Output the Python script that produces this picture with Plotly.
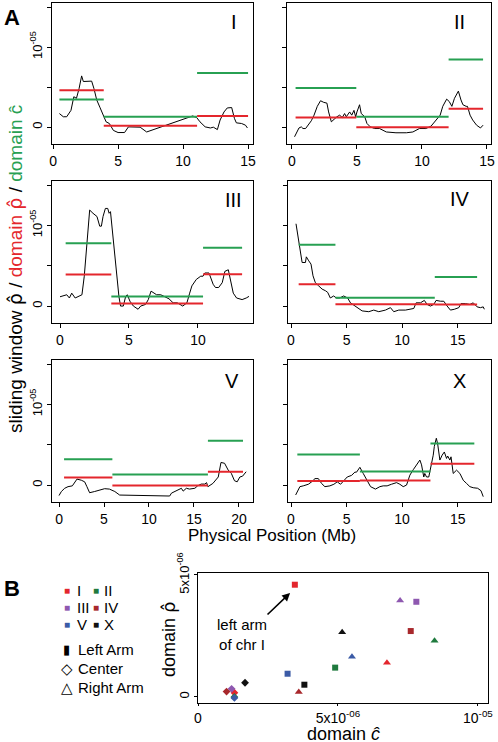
import numpy as np
import plotly.graph_objects as go

W, H = 498, 742
E = 1e-6  # values below are in units of 1e-6

chroms = ["I", "II", "III", "IV", "V", "X"]
chrom_colors = ["#e3262d", "#1f7a3e", "#8e58b0", "#a8282c", "#3b5ba6", "#111111"]
domain_names = ["Left Arm", "Center", "Right Arm"]

# ---- sliding window rho-hat (Mb, x1e-6) ----
pos_I = [0.49,0.79,1.05,1.38,1.6,1.8,2.0,2.2,2.33,2.64,2.97,3.15,3.36,3.6,3.87,4.08,4.33,4.64,5.0,5.5,5.8,6.2,6.7,7.2,10.74,11.05,11.3,11.7,12.1,12.33,12.64,12.85,13.15,13.4,13.74,13.95,14.1,14.5,14.8,14.95]
win_I = [1.7,1.3,1.3,2.1,3.8,3.6,4.8,6.4,5.7,5.7,5.75,4.8,3.4,2.5,1.5,0.67,0.46,-0.4,-0.67,-0.67,0.04,0.0,0.0,-0.6,1.4,1.2,0.67,0.04,-0.1,0.0,-0.3,0.9,1.9,2.4,2.45,1.1,0.54,0.46,0.25,-0.1]

pos_II = [0.2,0.33,0.54,0.72,0.85,1.05,1.23,1.49,1.7,1.95,2.2,2.44,2.69,2.82,3.03,3.28,3.46,3.67,3.87,4.05,4.18,4.44,4.6,4.77,4.9,5.0,5.2,5.33,5.6,5.77,6.03,6.36,6.74,7.26,8.0,8.8,9.3,9.8,10.3,10.7,11.1,11.4,11.6,11.9,12.1,12.3,12.5,12.8,13.0,13.15,13.4,13.5,13.7,13.9,14.2,14.5,14.7]
win_II = [-1.2,-0.8,-0.1,0.04,-0.17,-0.17,0.25,0.8,1.5,2.6,3.3,3.1,3.0,1.9,0.67,1.1,1.3,1.5,1.2,1.7,1.3,1.9,1.5,2.1,1.3,1.9,2.8,1.7,1.3,0.46,0.04,-0.17,-0.17,-0.6,-0.7,-0.7,-0.6,-0.17,-0.17,0.13,0.9,1.5,2.6,3.5,3.2,2.6,3.6,4.5,3.4,2.8,2.6,2.6,1.5,0.9,0.25,-0.1,0.25]

pos_III = [0,0.24,0.49,0.68,0.85,1.1,1.34,1.59,1.76,1.95,2.15,2.39,2.68,2.88,3.0,3.12,3.29,3.46,3.56,3.66,3.9,4.1,4.27,4.39,4.59,4.76,4.88,5.07,5.32,5.66,5.85,6.2,6.4,6.6,6.8,7.0,7.3,7.56,7.9,8.2,8.5,8.9,9.2,9.4,9.56,9.88,10.2,10.37,10.5,10.8,10.9,11.1,11.27,11.5,11.76,11.95,12.2,12.4,12.56,12.8,13.2,13.5,13.7]
win_III = [1.15,1.3,1.4,1.0,1.6,1.0,1.2,1.4,3.7,7.8,11.9,11.5,11.1,9.9,9.9,11.1,12.1,12.1,11.5,11.7,7.4,4.1,1.2,0,0,1.2,1.4,0.6,0,-0.4,0,0.2,0.8,1.85,1.6,1.4,1.4,1.2,0.9,0.4,0.4,0,0.4,1.6,2.5,3.3,3.7,3.7,4.1,4.1,3.7,2.7,2.3,2.3,2.9,4.3,4.5,2.9,1.6,1.0,0.8,1.0,1.2]

pos_IV = [0.45,0.69,0.9,1.0,1.3,1.38,1.6,1.8,1.98,2.19,2.49,2.8,3.1,3.3,3.54,3.84,4.08,4.38,4.74,5.1,5.35,5.8,6.4,7.0,7.45,7.9,8.5,8.95,9.25,9.7,10.3,11.05,11.26,11.65,12.0,12.25,12.55,12.85,13.06,13.45,13.75,14.05,14.35,14.7,15.1,15.3,15.7,16.1,16.4,16.75,17.05,17.3,17.4]
win_IV = [10.2,8.1,6.5,5.4,5.4,6.1,5.6,5.2,3.75,2.9,2.5,2.1,1.9,1.7,1.0,1.25,1.0,1.0,1.25,1.0,0.4,0,-0.6,-0.7,-0.5,-0.7,-0.5,-0.2,-0.7,-0.5,-0.5,-0.3,0.4,0.4,0.7,0.2,0,0.2,0.7,0.6,0.6,0,-0.5,-0.4,-0.2,0.3,0.3,0.2,0.4,-0.1,-0.2,-0.1,-0.4]

pos_V = [0,0.26,0.63,1.0,1.48,1.74,2.0,2.48,2.85,3.1,3.4,3.96,4.5,5.07,5.6,6.2,6.74,7.85,8.96,10.07,11.2,12.3,12.5,12.85,13.2,13.6,13.8,14.15,14.5,15.1,15.4,15.8,16.2,16.4,16.55,17.1,17.7,18.0,18.4,18.8,19.15,19.5,19.8,20.1,20.4,20.8]
win_V = [-1.3,-0.8,-0.4,-0.2,-0.1,0.4,0.74,0.6,0.4,-0.2,-0.95,-0.8,-0.6,-0.45,-0.5,-0.8,-1.24,-1.28,-1.3,-1.36,-1.36,-1.36,-1.0,-0.8,-0.7,-0.4,-0.75,-0.4,-0.5,-0.4,-0.1,0.12,0.12,0.3,-0.2,0.2,1.0,2.8,2.7,1.86,1.45,0.54,0.4,1.0,1.1,1.65]

pos_X = [0.42,0.57,0.8,1.1,1.56,1.86,2.16,2.46,2.75,3.05,3.5,3.86,4.16,4.46,4.76,5.06,5.45,5.75,5.9,6.2,6.5,6.8,7.16,7.6,8.0,8.3,8.65,9.04,9.5,9.8,10.1,10.4,10.7,11.0,11.3,11.6,11.75,11.95,12.04,12.2,12.4,12.6,12.8,12.9,13.08,13.2,13.4,13.6,13.8,14.0,14.1,14.3,14.4,14.6,14.9,15.2,15.5,15.8,16.1,16.4,16.8,17.1,17.3]
win_X = [-1.23,-0.8,-0.2,-0.1,0.1,0.4,0.8,0.8,0.2,-0.2,-0.1,0.1,0.4,0.1,0.6,1.0,1.2,1.6,1.6,2.2,1.44,0.6,-0.2,-0.5,-0.2,-0.1,-0.1,0.1,0.3,0.1,-0.2,0,1.23,1.9,2.5,3.1,2.5,1.0,1.44,1.0,1.0,2.3,3.7,4.8,5.8,5.1,3.1,3.7,4.1,3.3,3.6,3.1,3.5,1.44,1.85,1.44,0.6,0.2,-0.2,-0.33,-0.4,-0.7,-1.44]

# ---- domains: boundaries (Mb), domain rho-hat, domain c-hat (x1e-6) ----
bounds_I = [0.49, 3.9, 11.08, 15.0]
rho_I = [4.6, 0.17, 1.4]
c_I = [3.46, 1.3, 6.75]

bounds_II = [0.28, 4.95, 12.05, 14.7]
rho_II = [1.2, 0.0, 2.3]
c_II = [4.9, 1.3, 8.45]

bounds_III = [0.41, 3.72, 10.37, 13.2]
rho_III = [3.9, 0.33, 3.95]
c_III = [7.8, 1.2, 7.22]

bounds_IV = [0.69, 4.0, 12.94, 16.75]
rho_IV = [2.7, 0.22, 0.2]
c_IV = [7.6, 1.02, 3.6]

bounds_V = [0.56, 5.93, 16.55, 20.45]
rho_V = [0.95, -0.04, 1.65]
c_V = [3.2, 1.3, 5.5]

bounds_X = [0.57, 6.2, 12.55, 16.5]
rho_X = [0.5, 0.58, 2.65]
c_X = [3.8, 1.68, 5.15]

positions = [pos_I, pos_II, pos_III, pos_IV, pos_V, pos_X]
windows = [win_I, win_II, win_III, win_IV, win_V, win_X]
bounds = [bounds_I, bounds_II, bounds_III, bounds_IV, bounds_V, bounds_X]
dom_rho = [rho_I, rho_II, rho_III, rho_IV, rho_V, rho_X]
dom_c = [c_I, c_II, c_III, c_IV, c_V, c_X]

# x tick values per panel
xticks_A = [[0, 5, 10, 15], [0, 5, 10, 15], [0, 5, 10], [0, 5, 10, 15], [0, 5, 10, 15, 20], [0, 5, 10, 15]]
xranges_A = [[-0.08, 15.38], [-0.38, 15.31], [-0.58, 13.99], [-0.27, 18.0], [-0.78, 21.56], [-0.27, 18.0]]

RED = "#e4262c"
GREEN = "#27a052"
FONT = "Liberation Sans, Arial, sans-serif"


def rhohat(color="black"):
    return '<span style="font-family:DejaVu Sans;color:%s">ρ̂</span>' % color


# panel boxes in pixels: (x0, x1, y0, y1)
boxes = [(52, 253, 3, 144), (287, 491, 3, 144),
         (52, 253, 181, 323), (288, 491, 181, 323),
         (52, 253, 360, 502), (288, 491, 360, 502)]


def fx(px):
    return px / W


def fy(py):
    return 1 - py / H


fig = go.Figure()
layout = dict(
    template="none",
    width=W, height=H, margin=dict(l=0, r=0, t=0, b=0, pad=0, autoexpand=False),
    paper_bgcolor="white", plot_bgcolor="white", showlegend=False,
    font=dict(family=FONT, color="black"),
)

for i in range(6):
    k = i + 1
    xa, ya = f"x{k}", f"y{k}"
    segx, rseg, cseg = [], [], []
    b = bounds[i]
    for j in range(3):
        segx += [b[j], b[j + 1], None]
        rseg += [dom_rho[i][j] * E, dom_rho[i][j] * E, None]
        cseg += [dom_c[i][j] * E, dom_c[i][j] * E, None]
    fig.add_trace(go.Scatter(x=positions[i], y=np.array(windows[i]) * E, mode="lines",
                             line=dict(color="black", width=1), xaxis=xa, yaxis=ya))
    fig.add_trace(go.Scatter(x=segx, y=cseg, mode="lines", line=dict(color=GREEN, width=2),
                             xaxis=xa, yaxis=ya, connectgaps=False))
    fig.add_trace(go.Scatter(x=segx, y=rseg, mode="lines", line=dict(color=RED, width=2),
                             xaxis=xa, yaxis=ya, connectgaps=False))
    x0, x1, y0, y1 = boxes[i]
    left = (i % 2 == 0)
    layout[f"xaxis{k}"] = dict(
        domain=[fx(x0), fx(x1)], range=xranges_A[i], anchor=ya, automargin=False,
        showline=True, mirror=True, linecolor="black", linewidth=1,
        ticks="outside", ticklen=4, tickcolor="black",
        tickvals=xticks_A[i], ticktext=[str(v) for v in xticks_A[i]],
        tickfont=dict(size=14, family=FONT), showgrid=False, zeroline=False,
    )
    ycfg = dict(
        domain=[fy(y1), fy(y0)], range=[-2.1e-6, 15.5e-6], anchor=xa, automargin=False,
        showline=True, mirror=True, linecolor="black", linewidth=1,
        ticks="outside", ticklen=4, tickcolor="black",
        tickangle=-90, tickfont=dict(size=13, family=FONT),
        showgrid=False, zeroline=False,
    )
    if left:
        ycfg.update(tickvals=[0, 1e-5], ticktext=["0", "10<sup>-05</sup>"],
                    minor=dict(tickvals=[5e-6, 1.5e-5], ticks="outside", ticklen=4,
                               tickcolor="black", showgrid=False))
    else:
        ycfg.update(tickvals=[0, 5e-6, 1e-5, 1.5e-5], showticklabels=False)
    layout[f"yaxis{k}"] = ycfg

# ---- panel B scatter ----
symbols = ["square", "diamond", "triangle-up"]
sizes = [6, 6, 7]
order = [0, 1, 2, 3, 5, 4]  # draw V last so it sits on top (as in reference)
for i in order:
    for j in range(3):
        fig.add_trace(go.Scatter(
            x=[dom_c[i][j] * E], y=[dom_rho[i][j] * E], mode="markers",
            marker=dict(symbol=symbols[j], size=sizes[j], color=chrom_colors[i],
                        line=dict(width=0)),
            xaxis="x7", yaxis="y7"))

layout["xaxis7"] = dict(
    domain=[fx(198), fx(488)], range=[0, 10.36e-6], anchor="y7", automargin=False,
    showline=True, mirror=True, linecolor="black", linewidth=1,
    ticks="outside", ticklen=2, tickcolor="black",
    tickvals=[0, 5e-6, 1e-5], ticktext=["0", "5x10<sup>-06</sup>", "10<sup>-05</sup>"],
    tickfont=dict(size=14, family=FONT), showgrid=False, zeroline=False,
)
layout["yaxis7"] = dict(
    domain=[fy(703), fy(573)], range=[-0.25e-6, 5.08e-6], anchor="x7", automargin=False,
    showline=True, mirror=True, linecolor="black", linewidth=1,
    ticks="outside", ticklen=3, tickcolor="black",
    tickvals=[0, 5e-6], ticktext=["0", "5x10<sup>-06</sup>"], tickangle=-90,
    tickfont=dict(size=13, family=FONT), showgrid=False, zeroline=False,
)

ann = []


def txt(x, y, s, size, color="black", xanchor="center", angle=0, bold=False):
    ann.append(dict(x=fx(x), y=fy(y), xref="paper", yref="paper", text=(f"<b>{s}</b>" if bold else s),
                    showarrow=False, xanchor=xanchor, yanchor="middle", textangle=angle,
                    font=dict(size=size, color=color, family=FONT)))


# panel labels
txt(12, 17, "A", 22, bold=True)
txt(12, 588, "B", 22, bold=True)
# chromosome labels in panels
label_pos = [(234, 22), (459, 22), (233, 200), (460, 199), (232, 381), (459, 381)]
for name, (lx, ly) in zip(chroms, label_pos):
    txt(lx, ly, name, 20)

# A axis titles
ylab = ('sliding window ' + rhohat() + ' / '
        + '<span style="color:%s">domain </span>' % RED + rhohat(RED) + ' / '
        + '<span style="color:%s">domain ĉ</span>' % GREEN)
txt(15, 269, ylab, 19, angle=-90)
txt(272, 535, "Physical Position (Mb)", 17)

# B axis titles
txt(168, 640, "domain " + rhohat(), 18, angle=-90)
txt(343, 734, "domain <i>ĉ</i>", 18)

# B legend
leg_rows = [(590, 0, 1), (607, 2, 3), (624, 4, 5)]
for ly, a, b2 in leg_rows:
    txt(67, ly, "■", 10, color=chrom_colors[a])
    txt(75, ly, chroms[a], 15, xanchor="left")
    txt(96, ly, "■", 10, color=chrom_colors[b2])
    txt(102, ly, chroms[b2], 15, xanchor="left")
txt(66, 649, "▮", 13)
txt(76, 649, domain_names[0], 15, xanchor="left")
txt(67, 668, "◇", 15)
txt(76, 668, domain_names[1], 15, xanchor="left")
txt(67, 687, "△", 15)
txt(76, 687, domain_names[2], 15, xanchor="left")

# annotation with arrow for left arm of chr I
txt(242, 634, "left arm<br>of chr I", 15)
ann.append(dict(x=3.29e-6, y=4.26e-6, xref="x7", yref="y7",
                ax=2.43e-6, ay=3.32e-6, axref="x7", ayref="y7",
                text="", showarrow=True, arrowhead=2, arrowsize=1, arrowwidth=1.6,
                arrowcolor="black"))

layout["annotations"] = ann
fig.update_layout(**layout)
fig.write_html("out.html", config={"displayModeBar": False},
               post_script="document.body.style.margin='0px';document.body.style.overflow='hidden';")
